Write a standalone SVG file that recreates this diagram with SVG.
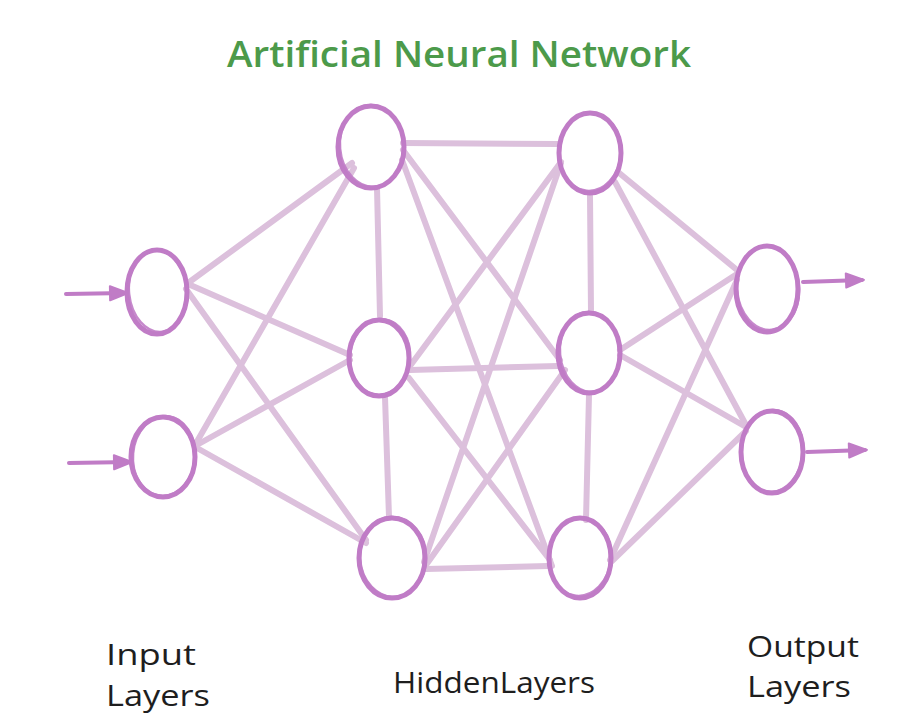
<svg xmlns="http://www.w3.org/2000/svg" width="906" height="724" viewBox="0 0 906 724">
<style>
.node{fill:none;stroke:#c07cc6;stroke-width:5}
.node2{fill:none;stroke:#c07cc6;stroke-width:2.5;opacity:0.9}
.edge{stroke:#dcc0dc;stroke-width:6;stroke-linecap:round;fill:none}
.io{stroke:#c07cc6;stroke-width:4;stroke-linecap:round;fill:none}
.lbl{font-family:"Open Sans","Liberation Sans",sans-serif;font-size:29px;font-weight:500;fill:#1e1e1e}
.title{font-family:"Open Sans","Liberation Sans",sans-serif;font-size:36px;font-weight:600;fill:#4c9a4a}
</style>
<defs>
<marker id="ah" markerWidth="26" markerHeight="22" refX="18" refY="11" orient="auto" markerUnits="userSpaceOnUse" overflow="visible">
<path d="M2,4 L20,11 L2,18 Z" fill="#c07cc6" stroke="#c07cc6" stroke-width="2" stroke-linejoin="round"/>
</marker>
</defs>
<rect width="906" height="724" fill="#ffffff"/>
<g id="connectors">
<line class="edge" x1="188" y1="283" x2="352" y2="163"/>
<line class="edge" x1="188" y1="284" x2="350" y2="355"/>
<line class="edge" x1="186" y1="289" x2="366" y2="540"/>
<line class="edge" x1="195" y1="445" x2="354" y2="168"/>
<line class="edge" x1="195" y1="446" x2="350" y2="360"/>
<line class="edge" x1="197" y1="448" x2="366" y2="543"/>
<line class="edge" x1="377" y1="188" x2="380" y2="316"/>
<line class="edge" x1="385" y1="397" x2="389" y2="517"/>
<line class="edge" x1="590" y1="195" x2="591" y2="312"/>
<line class="edge" x1="589" y1="395" x2="586" y2="520"/>
<line class="edge" x1="403" y1="143" x2="558" y2="144"/>
<line class="edge" x1="403" y1="150" x2="560" y2="360"/>
<line class="edge" x1="402" y1="160" x2="552" y2="566"/>
<line class="edge" x1="410" y1="366" x2="561" y2="162"/>
<line class="edge" x1="410" y1="370" x2="558" y2="366"/>
<line class="edge" x1="409" y1="378" x2="550" y2="560"/>
<line class="edge" x1="424" y1="562" x2="561" y2="163"/>
<line class="edge" x1="426" y1="565" x2="565" y2="370"/>
<line class="edge" x1="426" y1="569" x2="548" y2="566"/>
<line class="edge" x1="618" y1="172" x2="737" y2="270"/>
<line class="edge" x1="615" y1="182" x2="746" y2="425"/>
<line class="edge" x1="620" y1="350" x2="737" y2="274"/>
<line class="edge" x1="620" y1="355" x2="746" y2="427"/>
<line class="edge" x1="610" y1="560" x2="737" y2="280"/>
<line class="edge" x1="612" y1="561" x2="746" y2="431"/>
<line class="io" x1="66" y1="294" x2="126" y2="293" marker-end="url(#ah)"/>
<line class="io" x1="69" y1="463" x2="130" y2="462" marker-end="url(#ah)"/>
<line class="io" x1="803" y1="282" x2="862" y2="280" marker-end="url(#ah)"/>
<line class="io" x1="807" y1="452" x2="865" y2="450" marker-end="url(#ah)"/>
</g>
<g id="input1"><ellipse class="node" cx="157" cy="292" rx="30" ry="42"/><ellipse class="node2" cx="158" cy="291" rx="29" ry="41" transform="rotate(-6 158 291)"/></g>
<g id="input2"><ellipse class="node" cx="163" cy="457" rx="32" ry="40"/><ellipse class="node2" cx="164" cy="456" rx="31" ry="40" transform="rotate(5 164 456)"/></g>
<g id="hidden1a"><ellipse class="node" cx="371" cy="147" rx="33" ry="41"/><ellipse class="node2" cx="372" cy="146" rx="32" ry="41" transform="rotate(-5 372 146)"/></g>
<g id="hidden1b"><ellipse class="node" cx="379" cy="358" rx="30" ry="38"/><ellipse class="node2" cx="380" cy="357" rx="30" ry="38" transform="rotate(5 380 357)"/></g>
<g id="hidden1c"><ellipse class="node" cx="392" cy="558" rx="33" ry="40"/><ellipse class="node2" cx="393" cy="557" rx="33" ry="40" transform="rotate(-4 393 557)"/></g>
<g id="hidden2a"><ellipse class="node" cx="590" cy="153" rx="31" ry="40"/><ellipse class="node2" cx="590" cy="152" rx="31" ry="39" transform="rotate(5 590 152)"/></g>
<g id="hidden2b"><ellipse class="node" cx="589" cy="353" rx="31" ry="40"/><ellipse class="node2" cx="590" cy="352" rx="30" ry="40" transform="rotate(-5 590 352)"/></g>
<g id="hidden2c"><ellipse class="node" cx="580" cy="558" rx="31" ry="40"/><ellipse class="node2" cx="580" cy="557" rx="31" ry="39" transform="rotate(6 580 557)"/></g>
<g id="output1"><ellipse class="node" cx="767" cy="289" rx="31" ry="43"/><ellipse class="node2" cx="768" cy="288" rx="31" ry="42" transform="rotate(-5 768 288)"/></g>
<g id="output2"><ellipse class="node" cx="772" cy="452" rx="31" ry="41"/><ellipse class="node2" cx="772" cy="451" rx="31" ry="41" transform="rotate(5 772 451)"/></g>
<g id="labels">
<text class="title" x="227" y="67" textLength="464" lengthAdjust="spacingAndGlyphs">Artificial Neural Network</text>
<text class="lbl" x="106" y="665" textLength="90" lengthAdjust="spacingAndGlyphs">Input</text>
<text class="lbl" x="106" y="706" textLength="104" lengthAdjust="spacingAndGlyphs">Layers</text>
<text class="lbl" x="393" y="693" textLength="202" lengthAdjust="spacingAndGlyphs">HiddenLayers</text>
<text class="lbl" x="747" y="657" textLength="112" lengthAdjust="spacingAndGlyphs">Output</text>
<text class="lbl" x="747" y="697" textLength="104" lengthAdjust="spacingAndGlyphs">Layers</text>
</g>
</svg>
